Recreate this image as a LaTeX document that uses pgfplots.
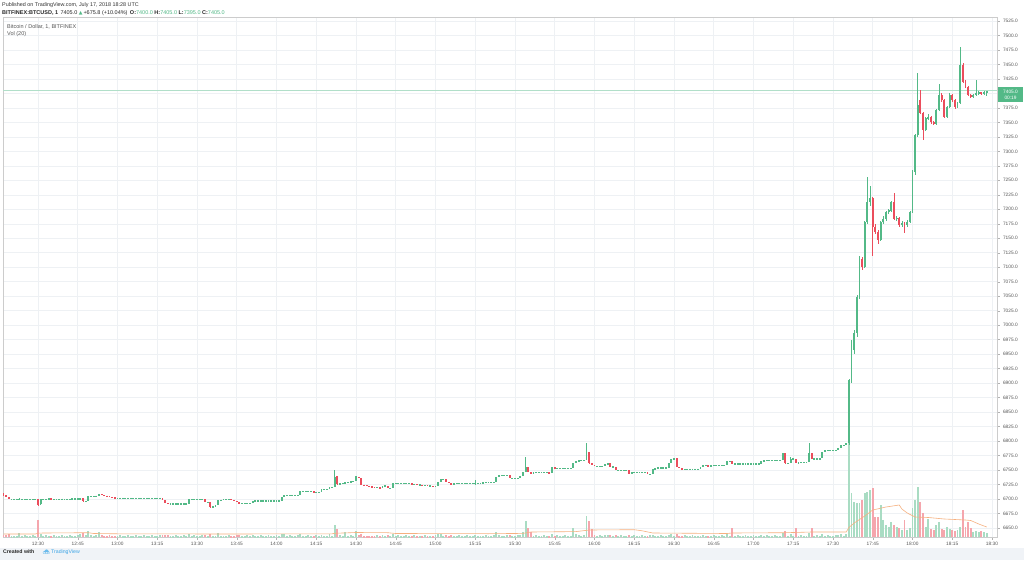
\documentclass[border=0pt]{standalone}
\usepackage{fontspec}
\setmainfont{Liberation Sans}
\newfontfamily\djv{DejaVu Sans}
\usepackage{pgfplots}
\usepackage{pgfplotstable}
\pgfplotsset{compat=1.18}
\definecolor{upc}{HTML}{53B987}
\definecolor{dnc}{HTML}{EB4D5C}
\definecolor{upv}{HTML}{A9DCC3}
\definecolor{dnv}{HTML}{F5A6AD}
\definecolor{gridc}{HTML}{EEF1F4}
\definecolor{txt}{HTML}{555555}
\definecolor{foot}{HTML}{F0F3F7}
\definecolor{tvblue}{HTML}{3BA4E6}
\definecolor{mac}{HTML}{F6B07F}
\pgfplotsset{candle/.style={draw=none, mark=none, forget plot,
  error bars/y dir=both, error bars/y explicit, error bars/error mark=none}}

\pgfplotstableread{
t o h l c v
17 6709 6710 6706 6707 2
18 6707 6707 6704 6704 2
19 6704 6704 6700 6700 3
20 6700 6700 6700 6700 1
21 6700 6700 6700 6700 1
22 6700 6701 6700 6700 1
23 6700 6701 6699 6700 4
24 6700 6700 6700 6700 1
25 6700 6700 6700 6700 2
26 6700 6700 6700 6700 1
27 6700 6700 6700 6700 1
28 6700 6700 6700 6700 2
29 6700 6700 6699 6700 1
30 6700 6700 6688 6690 17
31 6691 6700 6689 6700 3
32 6700 6700 6700 6700 1
33 6700 6700 6700 6700 2
34 6700 6701 6700 6701 1
35 6701 6701 6700 6700 1
36 6700 6700 6700 6700 2
37 6700 6700 6700 6700 1
38 6700 6700 6700 6700 1
39 6700 6701 6700 6700 2
40 6700 6700 6700 6700 1
41 6700 6700 6700 6700 1
42 6700 6700 6700 6700 2
43 6700 6701 6700 6701 1
44 6701 6701 6701 6701 1
45 6701 6701 6701 6701 2
46 6701 6702 6701 6701 3
47 6701 6702 6695 6696 4
48 6696 6697 6695 6696 2
49 6696 6705 6696 6705 6
50 6705 6705 6704 6705 2
51 6705 6705 6705 6705 1
52 6705 6706 6705 6706 2
53 6706 6709 6706 6709 5
54 6709 6709 6707 6707 2
55 6707 6707 6706 6706 1
56 6706 6706 6705 6705 1
57 6705 6705 6704 6704 2
58 6704 6704 6703 6703 1
59 6703 6703 6702 6702 1
60 6702 6702 6702 6702 1
61 6702 6702 6702 6702 2
62 6702 6702 6702 6702 1
63 6702 6702 6702 6702 1
64 6702 6702 6702 6702 2
65 6702 6702 6702 6702 1
66 6702 6702 6702 6702 1
67 6702 6702 6702 6702 2
68 6702 6702 6702 6702 1
69 6702 6702 6702 6702 1
70 6702 6702 6702 6702 2
71 6702 6702 6702 6702 1
72 6702 6702 6702 6702 1
73 6702 6702 6702 6702 2
74 6702 6702 6702 6702 1
75 6702 6702 6702 6702 1
76 6702 6702 6702 6702 2
77 6702 6702 6698 6698 2
78 6698 6698 6694 6694 2
79 6694 6694 6692 6692 2
80 6692 6692 6692 6692 1
81 6692 6692 6692 6692 1
82 6692 6692 6692 6692 2
83 6692 6692 6692 6692 1
84 6692 6692 6692 6692 1
85 6692 6692 6692 6692 2
86 6692 6692 6692 6692 1
87 6692 6700 6692 6700 3
88 6700 6700 6700 6700 1
89 6700 6700 6700 6700 2
90 6700 6700 6700 6700 1
91 6700 6700 6700 6700 1
92 6700 6700 6700 6700 2
93 6700 6700 6695 6695 2
94 6695 6695 6695 6695 1
95 6695 6695 6685 6687 3
96 6687 6688 6686 6687 1
97 6687 6689 6687 6689 1
98 6689 6698 6689 6698 4
99 6698 6699 6698 6699 1
100 6699 6700 6699 6700 1
101 6700 6700 6700 6700 1
102 6700 6700 6700 6700 2
103 6700 6700 6699 6699 1
104 6699 6699 6697 6697 1
105 6697 6697 6695 6695 2
106 6695 6695 6693 6693 2
107 6693 6693 6693 6693 1
108 6693 6693 6693 6693 1
109 6693 6693 6693 6693 2
110 6693 6693 6693 6693 1
111 6693 6697 6693 6697 2
112 6697 6697 6697 6697 1
113 6697 6697 6697 6697 1
114 6697 6697 6697 6697 2
115 6697 6697 6697 6697 1
116 6697 6697 6697 6697 1
117 6697 6697 6697 6697 2
118 6697 6697 6697 6697 1
119 6697 6697 6697 6697 1
120 6697 6697 6697 6697 2
121 6697 6697 6697 6697 1
122 6697 6703 6697 6703 3
123 6703 6707 6703 6707 3
124 6707 6707 6707 6707 1
125 6707 6707 6707 6707 2
126 6707 6707 6707 6707 1
127 6707 6707 6707 6707 1
128 6707 6707 6707 6707 2
129 6707 6714 6707 6714 3
130 6714 6714 6714 6714 1
131 6714 6714 6714 6714 1
132 6714 6714 6714 6714 2
133 6714 6714 6714 6714 1
134 6714 6714 6712 6712 1
135 6712 6712 6712 6712 2
136 6712 6712 6712 6712 1
137 6712 6717 6712 6717 2
138 6717 6717 6717 6717 1
139 6717 6717 6717 6717 1
140 6717 6721 6717 6721 3
141 6721 6721 6721 6721 1
142 6721 6750 6721 6739 12
143 6739 6739 6725 6726 8
144 6726 6727 6726 6727 2
145 6727 6727 6727 6727 1
146 6727 6729 6727 6729 5
147 6729 6729 6729 6729 1
148 6729 6731 6729 6731 2
149 6731 6731 6731 6731 1
150 6731 6740 6731 6739 6
151 6739 6739 6736 6736 2
152 6736 6736 6725 6725 3
153 6725 6725 6724 6724 1
154 6724 6724 6723 6723 1
155 6723 6723 6722 6722 1
156 6722 6722 6721 6721 1
157 6721 6721 6720 6720 1
158 6720 6720 6720 6720 2
159 6720 6720 6719 6719 1
160 6719 6723 6719 6723 2
161 6723 6723 6723 6723 1
162 6723 6723 6719 6719 2
163 6719 6719 6719 6719 1
164 6719 6727 6719 6727 3
165 6727 6727 6727 6727 1
166 6727 6727 6727 6727 2
167 6727 6727 6727 6727 1
168 6727 6727 6727 6727 1
169 6727 6727 6727 6727 2
170 6727 6727 6727 6727 1
171 6727 6727 6726 6726 1
172 6726 6726 6726 6726 2
173 6726 6726 6725 6725 1
174 6725 6725 6725 6725 1
175 6725 6725 6724 6724 1
176 6724 6724 6724 6724 2
177 6724 6724 6723 6723 1
178 6723 6723 6723 6723 1
179 6723 6723 6722 6722 1
180 6722 6722 6722 6722 2
181 6722 6730 6722 6730 3
182 6730 6734 6730 6734 3
183 6734 6734 6734 6734 1
184 6734 6734 6730 6730 2
185 6730 6730 6728 6728 1
186 6728 6728 6725 6725 2
187 6725 6727 6725 6727 1
188 6727 6727 6727 6727 1
189 6727 6727 6727 6727 2
190 6727 6727 6727 6727 1
191 6727 6727 6727 6727 1
192 6727 6727 6727 6727 2
193 6727 6727 6727 6727 1
194 6727 6727 6727 6727 1
195 6727 6733 6724 6727 2
196 6727 6728 6727 6728 1
197 6728 6728 6728 6728 1
198 6728 6729 6728 6729 1
199 6729 6729 6729 6729 2
200 6729 6729 6729 6729 1
201 6729 6729 6729 6729 1
202 6729 6729 6729 6729 2
203 6729 6738 6729 6738 5
204 6738 6741 6738 6741 2
205 6741 6741 6741 6741 1
206 6741 6741 6741 6741 1
207 6741 6741 6741 6741 2
208 6741 6741 6736 6736 2
209 6736 6736 6736 6736 1
210 6736 6736 6736 6736 1
211 6736 6736 6736 6736 2
212 6736 6740 6736 6740 2
213 6740 6747 6740 6747 5
214 6747 6773 6747 6756 16
215 6756 6756 6747 6747 9
216 6747 6747 6744 6744 5
217 6744 6746 6744 6746 1
218 6746 6746 6746 6746 2
219 6746 6746 6746 6746 1
220 6746 6746 6746 6746 1
221 6746 6746 6746 6746 2
222 6746 6746 6746 6746 1
223 6746 6746 6745 6745 1
224 6745 6755 6745 6755 3
225 6755 6755 6753 6753 1
226 6753 6753 6753 6753 2
227 6753 6753 6753 6753 1
228 6753 6753 6753 6753 1
229 6753 6753 6753 6753 2
230 6753 6753 6753 6753 1
231 6753 6753 6753 6753 1
232 6753 6762 6753 6762 9
233 6762 6766 6762 6766 3
234 6766 6767 6766 6767 2
235 6767 6767 6767 6767 1
236 6767 6767 6767 6767 2
237 6767 6796 6767 6782 21
238 6782 6782 6761 6762 16
239 6762 6762 6759 6759 8
240 6759 6759 6757 6757 2
241 6757 6757 6757 6757 1
242 6757 6757 6757 6757 2
243 6757 6757 6757 6757 1
244 6757 6760 6757 6760 2
245 6760 6762 6760 6762 2
246 6762 6762 6756 6756 2
247 6756 6756 6756 6756 1
248 6756 6756 6750 6750 2
249 6750 6750 6750 6750 1
250 6750 6750 6750 6750 2
251 6750 6750 6750 6750 1
252 6750 6750 6750 6750 1
253 6750 6750 6744 6744 2
254 6744 6746 6744 6746 1
255 6746 6746 6746 6746 2
256 6746 6746 6746 6746 1
257 6746 6746 6746 6746 1
258 6746 6746 6746 6746 2
259 6746 6746 6746 6746 1
260 6746 6746 6743 6743 1
261 6743 6743 6743 6743 2
262 6743 6751 6743 6751 2
263 6751 6754 6751 6754 1
264 6754 6754 6754 6754 1
265 6754 6754 6754 6754 2
266 6754 6754 6754 6754 1
267 6754 6754 6754 6754 1
268 6754 6762 6754 6762 2
269 6762 6770 6762 6770 3
270 6770 6770 6770 6770 1
271 6770 6770 6756 6756 3
272 6756 6756 6753 6753 1
273 6753 6753 6752 6752 1
274 6752 6752 6752 6752 2
275 6752 6752 6752 6752 1
276 6752 6752 6752 6752 1
277 6752 6752 6752 6752 2
278 6752 6752 6752 6752 1
279 6752 6752 6752 6752 1
280 6752 6756 6752 6756 1
281 6756 6759 6756 6759 2
282 6759 6759 6759 6759 1
283 6759 6759 6756 6756 1
284 6756 6758 6756 6758 1
285 6758 6758 6758 6758 2
286 6758 6758 6758 6758 1
287 6758 6758 6758 6758 1
288 6758 6758 6758 6758 2
289 6758 6758 6758 6758 1
290 6758 6766 6758 6766 3
291 6766 6766 6766 6766 1
292 6766 6766 6761 6761 9
293 6761 6761 6761 6761 1
294 6761 6761 6761 6761 2
295 6761 6761 6761 6761 1
296 6761 6761 6761 6761 1
297 6761 6761 6761 6761 2
298 6761 6761 6761 6761 1
299 6761 6761 6761 6761 1
300 6761 6761 6761 6761 2
301 6761 6761 6761 6761 1
302 6761 6761 6761 6761 1
303 6761 6766 6761 6766 2
304 6766 6767 6766 6767 1
305 6767 6767 6767 6767 2
306 6767 6767 6767 6767 1
307 6767 6767 6767 6767 1
308 6767 6767 6767 6767 2
309 6767 6767 6767 6767 1
310 6767 6767 6767 6767 1
311 6767 6779 6767 6779 4
312 6779 6780 6760 6762 6
313 6762 6762 6762 6762 1
314 6762 6773 6762 6770 3
315 6770 6770 6770 6770 1
316 6770 6770 6762 6762 9
317 6762 6764 6762 6764 1
318 6764 6764 6764 6764 2
319 6764 6764 6764 6764 1
320 6764 6764 6764 6764 1
321 6764 6796 6764 6779 4
322 6779 6779 6770 6770 9
323 6770 6770 6770 6770 1
324 6770 6770 6770 6770 2
325 6770 6770 6770 6770 1
326 6770 6782 6770 6782 3
327 6782 6784 6782 6784 1
328 6784 6784 6784 6784 2
329 6784 6784 6784 6784 1
330 6784 6784 6784 6784 1
331 6784 6784 6784 6784 2
332 6784 6788 6784 6788 2
333 6788 6793 6788 6793 3
334 6793 6793 6793 6793 1
335 6793 6796 6793 6796 3
336 6796 6908 6794 6905 96
337 6905 6974 6900 6957 44
338 6957 6992 6950 6986 35
339 6986 7052 6980 7049 34
340 7049 7120 7045 7115 34
341 7115 7118 7095 7101 37
342 7101 7180 7098 7178 44
343 7178 7256 7175 7213 45
344 7213 7240 7205 7219 47
345 7219 7222 7120 7170 49
346 7170 7175 7158 7161 20
347 7161 7165 7140 7147 20
348 7147 7180 7145 7178 32
349 7178 7188 7175 7184 17
350 7184 7198 7180 7196 12
351 7196 7200 7192 7198 10
352 7198 7215 7196 7213 15
353 7213 7228 7182 7184 12
354 7184 7188 7180 7185 10
355 7185 7186 7170 7173 9
356 7173 7180 7170 7176 7
357 7176 7178 7160 7173 17
358 7173 7182 7170 7178 7
359 7178 7198 7176 7196 9
360 7196 7268 7194 7265 29
361 7265 7330 7260 7328 37
362 7328 7435 7325 7380 50
363 7389 7406 7364 7366 35
364 7366 7368 7320 7337 24
365 7337 7360 7335 7357 10
366 7357 7365 7354 7360 18
367 7360 7362 7348 7350 8
368 7350 7352 7345 7348 7
369 7348 7373 7346 7371 12
370 7371 7417 7369 7397 15
371 7397 7400 7386 7389 8
372 7389 7391 7357 7360 7
373 7360 7379 7358 7377 10
374 7377 7400 7375 7397 8
375 7397 7399 7386 7389 7
376 7389 7390 7374 7377 6
377 7377 7385 7375 7383 7
378 7383 7481 7381 7449 10
379 7449 7452 7418 7420 27
380 7420 7423 7409 7411 10
381 7411 7413 7395 7397 15
382 7397 7399 7392 7394 9
383 7394 7399 7392 7397 5
384 7397 7423 7395 7400 6
385 7400 7404 7398 7402 5
386 7402 7403 7398 7400 6
387 7400 7404 7398 7403 5
388 7400 7405 7395 7405 4
}\data

\pgfplotstableread{
t m
17 3
29 3
30 3.8
32 4
49 4.3
51 3.5
60 3.2
100 3
141 3.2
142 3.7
150 4.5
162 4.3
165 3.5
200 3.3
213 3.6
216 5
233 5.4
238 7
255 7.3
258 6.2
262 4
290 3.5
292 4
312 4.3
322 5
335 5
336 9.5
338 14
342 21
345 27
350 30
355 32
356 28
358 24
361 20
366 19.5
372 18
380 17
382 16.5
385 13
388 10
}\madata

\begin{document}
\begin{tikzpicture}[x=1pt,y=1pt]
\path[use as bounding box] (0,0) rectangle (1024,560);
\fill[white] (0,0) rectangle (1024,560);
\fill[foot] (0,0) rectangle (1024,12);
\begin{axis}[
  at={(3pt,23pt)}, anchor=south west, scale only axis,
  width=994pt, height=520pt,
  xmin=16.8, xmax=391.9, ymin=6634.5, ymax=7531.9,
  axis line style={draw=gray!40, line width=0.5pt},
  xtick={30,45,...,390},
  xticklabels={12:30,12:45,13:00,13:15,13:30,13:45,14:00,14:15,14:30,14:45,15:00,15:15,15:30,15:45,16:00,16:15,16:30,16:45,17:00,17:15,17:30,17:45,18:00,18:15,18:30},
  ytick={6650,6675,...,7525},
  scaled y ticks=false,
  ytick pos=right, xtick pos=bottom, yticklabel pos=right,
  tick align=outside, major tick length=2.5pt,
  tick style={draw=gray!60, line width=0.4pt},
  xmajorgrids, ymajorgrids, grid style={draw=gridc, line width=0.6pt},
  /pgf/number format/assume math mode=true,
  yticklabel style={font=\fontsize{4.8}{5}\selectfont, text=txt,
    /pgf/number format/fixed, /pgf/number format/fixed zerofill,
    /pgf/number format/precision=1, /pgf/number format/1000 sep={}},
  xticklabel style={font=\fontsize{4.8}{5}\selectfont, text=txt, yshift=1pt},
]
% volume bars
\addplot[candle, error bars/error bar style={draw=upv, line width=1.9pt},
  restrict expr to domain={\thisrow{c}-\thisrow{o}}{0:100000}]
  table[x=t, y expr={6634.5+\thisrow{v}*0.8629}, y error expr={\thisrow{v}*0.8629}]{\data};
\addplot[candle, error bars/error bar style={draw=dnv, line width=1.9pt},
  restrict expr to domain={\thisrow{c}-\thisrow{o}}{-100000:-0.01}]
  table[x=t, y expr={6634.5+\thisrow{v}*0.8629}, y error expr={\thisrow{v}*0.8629}]{\data};
% volume MA
\addplot[mac, line width=0.6pt, forget plot] table[x=t, y expr={6634.5+\thisrow{m}*1.7258}]{\madata};
% last price line
\addplot[upc!45, line width=0.6pt, forget plot] coordinates {(16.8,7405) (391.9,7405)};
% wicks
\addplot[candle, error bars/error bar style={draw=upc, line width=0.6pt},
  restrict expr to domain={\thisrow{c}-\thisrow{o}}{0:100000}]
  table[x=t, y expr={(\thisrow{h}+\thisrow{l})/2}, y error expr={(\thisrow{h}-\thisrow{l})/2}]{\data};
\addplot[candle, error bars/error bar style={draw=dnc, line width=0.6pt},
  restrict expr to domain={\thisrow{c}-\thisrow{o}}{-100000:-0.01}]
  table[x=t, y expr={(\thisrow{h}+\thisrow{l})/2}, y error expr={(\thisrow{h}-\thisrow{l})/2}]{\data};
% bodies
\addplot[candle, error bars/error bar style={draw=upc, line width=1.9pt},
  restrict expr to domain={\thisrow{c}-\thisrow{o}}{0:100000}]
  table[x=t, y expr={(\thisrow{o}+\thisrow{c})/2}, y error expr={max(abs(\thisrow{c}-\thisrow{o})/2,0.6)}]{\data};
\addplot[candle, error bars/error bar style={draw=dnc, line width=1.9pt},
  restrict expr to domain={\thisrow{c}-\thisrow{o}}{-100000:-0.01}]
  table[x=t, y expr={(\thisrow{o}+\thisrow{c})/2}, y error expr={max(abs(\thisrow{c}-\thisrow{o})/2,0.6)}]{\data};
\end{axis}
% header
\node[anchor=west, inner sep=0pt, text=black!80] at (2,554.5) {\fontsize{5.4}{6}\selectfont Published on TradingView.com, July 17, 2018 18:28 UTC};
\node[anchor=west, inner sep=0pt, text=black!85] at (2,546.8) {\fontsize{5.5}{6}\selectfont \textbf{BITFINEX:BTCUSD, 1}\, 7405.0 \raisebox{0.2pt}{\color{upc}\djv\fontsize{4.8}{5}\selectfont ▲}\,+675.8 (+10.04\%)\, \textbf{O:}{\color{upc}7400.0} \textbf{H:}{\color{upc}7405.0} \textbf{L:}{\color{upc}7395.0} \textbf{C:}{\color{upc}7405.0}};
% pane legend
\node[anchor=west, inner sep=0pt, text=txt] at (7,533) {\fontsize{5.5}{6}\selectfont Bitcoin / Dollar, 1, BITFINEX};
\node[anchor=west, inner sep=0pt, text=txt] at (7,525.5) {\fontsize{5.5}{6}\selectfont Vol (20)};
% last price box
\fill[upc] (998,457.5) rectangle (1023,473);
\node[inner sep=0pt, text=white] at (1010.5,468.2) {\fontsize{4.8}{5}\selectfont 7405.0};
\node[inner sep=0pt, text=white] at (1010.5,461.8) {\fontsize{4.8}{5}\selectfont 00:19};
% footer
\node[anchor=west, inner sep=0pt, text=black!85] at (3,8) {\fontsize{5.2}{6}\selectfont\bfseries Created with};
\fill[tvblue!75] (43,6.3) rectangle (49.5,8) (44.2,7.6) circle (1.5) (46.6,8.6) circle (2.0) (48.7,7.4) circle (1.3);
\node[anchor=west, inner sep=0pt, text=tvblue] at (51,8) {\fontsize{5.2}{6}\selectfont TradingView};
\end{tikzpicture}
\end{document}
